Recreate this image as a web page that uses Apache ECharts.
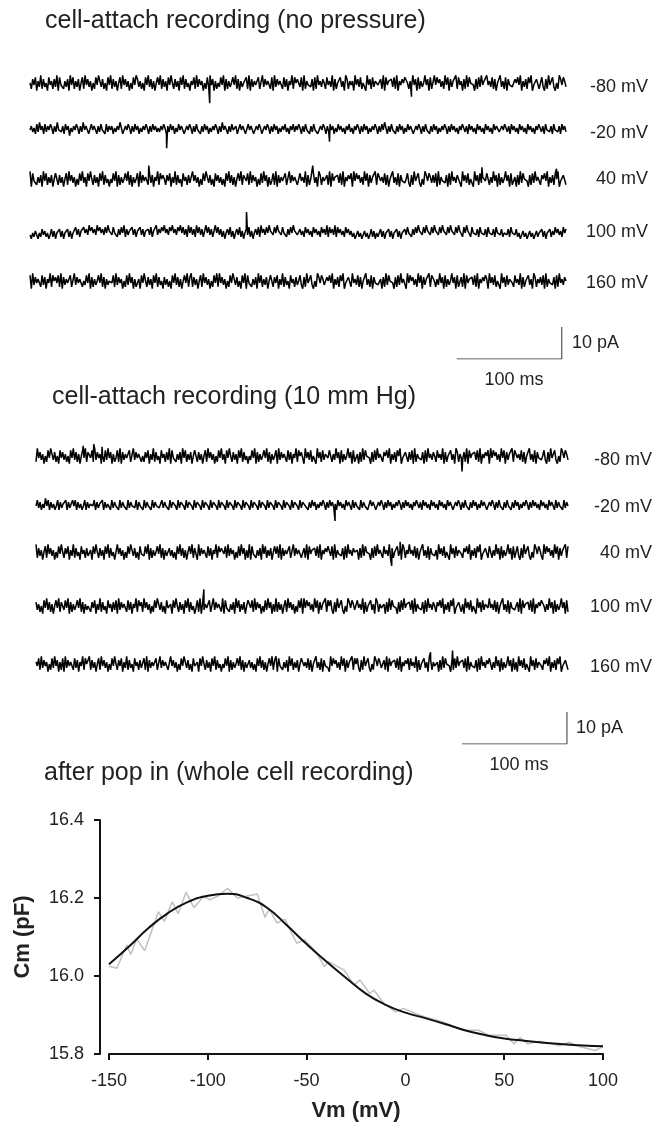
<!DOCTYPE html>
<html>
<head>
<meta charset="utf-8">
<script src="https://cdn.jsdelivr.net/npm/echarts@6/dist/echarts.min.js"></script>
<style>
  html, body { margin: 0; background: #fff; }
  #chart { width: 654px; height: 1130px; }
</style>
</head>
<body>
<div id="chart"></div>
<script>
// ---- data ----
const panelTitles = ['cell-attach recording (no pressure)', 'cell-attach recording (10 mm Hg)', 'after pop in (whole cell recording)']
const voltageLabels = ['-80 mV', '-20 mV', '40 mV', '100 mV', '160 mV']

// current traces, one digit per sample, noiseStep pA per digit around the baseline
const noiseStep = 0.6
const tracesNoPressure = [
  '52748163927351846273918452637194826371582947361528496372518492736158294736152849736251849372615849273618495273618492735164829374615283947162538491726358492716354829173645821937465281937465283716492857' +
  '73819264537182946375284639172548361972646194738256194728365437291846573829164758852639471826359471821948573629481736592846172938564172839465946382715493628174532758491637285914376258317294683152974863',
  '46352738462736475263845362746153647526384652374652637452736462536485236475263746253647526374635364752637462537465236475263745263746253647526384652637456237465237465236475236475263746253647352647' +
  '36475263745263745236475263746253746352647352647526374625364752637485263745263746253746523647526374526374625364752637463526475362746352746352746352746532647536274635274635274635264753627453627453627463',
  '91845263719482637158927361582947361528493618495273618492735153849172635849271635819374652837164928575274816392735184627329473615284963725184736251849372615849276482937461528394716248291736458219374652' +
  '28463917254836197264372918465738291647581948573629481736592894638271549362817453583172946831529748637381926453718294637561947382561947283654852639471826359471824617293856417283946527584916372859143762',
  '31425314263524136251436251436251437362547463857463857463748563745263748263547362547362546372548364758463758463758473628473628473625847362584736251463725146372514637251463728463748563748563745263748563' +
  '46352746352746352746382746382746352746352413524135241362514236251436251436251436374526374856374856374856374856374856374856274856274536274536274536274536245362745362413524135241352436251436253746352746',
  '81937465283716492857482917364582193746525384917263584927163564829374615283947162361849527361849273517362518493726158492792736158294736152849294736152849637251849184526371948263715852748163927351846273' +
  '58317294683152974863275849163728591437629463827154936281745346172938564172839465194857362948173659288526394718263594718237291846573829164758619473825619472836542846391725483619726473819264537182946375'
]
const tracesPressure = [
  '29473615284963725184736251849372615849276482937461528394716248291736458219374652527481639273518462739184526371948263715892736158294736152849361849527361849273515384917263584927163581937465283716492857' +
  '61947382561947283654852639471826359471824617293856417283946527584916372859143762738192645371829463752846391725483619726437291846573829164758194857362948173659289463827154936281745358317294683152974863',
  '47362538472635247263547263574726352472635647263547263542736452736452736453726452736452736453273645273654273654273654273654273654273654273654273654273654273654273654273654273654273654273654273654273654' +
  '52637462536475263746352746352746527364527364523746523647526374625364752637463526475362746352746352746352746523647526374526374625374652364752637452637452637462536475263746352746352746527364527364',
  '92736158294736152849527481639273518462733618495273618492735129473615284963725184538491726358492716357362518493726158492781937465283716492857648293746152839471629184526371948263715848291736458219374652' +
  '37291846573829164758738192645371829463754617293856417283946528463917254836197264946382715493628174536194738256194728365427584916372859143762852639471826359471825831729468315297486319485736294817365928',
  '73625184937261584927538491726358492716355274816392735184627381937465283716492857294736152849637251843618495273618492735148291736458219374652918452637194826371586482937461528394716292736158294736152849' +
  '19485736294817365928583172946831529748632846391725483619726446172938564172839465738192645371829463752758491637285914376261947382561947283654946382715493628174533729184657382916475885263947182635947182',
  '64829374615283947162819374652837164928579273615829473615284952748163927351846273482917364582193746522947361528496372518436184952736184927351538491726358492716357362518493726158492791845263719482637158' +
  '94638271549362817453194857362948173659285831729468315297486337291846573829164758284639172548361972644617293856417283946573819264537182946375852639471826359471826194738256194728365427584916372859143762'
]
// isolated spikes [time ms, current pA]
const spikesNoPressure = [
  [[171, -6], [363, -4]],
  [[130, -6], [285, -4]],
  [[113, 4.5], [269, 4.5], [430, 4], [501, 3.5]],
  [[206, 6.5]],
  []
]
const spikesPressure = [
  [[45, 3.5], [55, 4], [63, 3.2], [406, -4.5]],
  [[285, -5]],
  [[339, -4], [347, 3.5]],
  [[160, 5.5]],
  [[376, 4], [397, 4.5]]
]
const scaleBarTime = [406, 506]   // 100 ms
const scaleBarCurrent = [0, 10]   // 10 pA

// whole cell capacitance
const cmData = [
  [-150, 16.025], [-146, 16.02], [-141, 16.08], [-139, 16.055], [-136, 16.095], [-132, 16.065],
  [-125, 16.165], [-122, 16.14], [-118, 16.19], [-115, 16.16], [-111, 16.215], [-107, 16.175],
  [-102, 16.205], [-99, 16.195], [-95, 16.205], [-90, 16.225], [-85, 16.2], [-80, 16.205],
  [-75, 16.21], [-71, 16.15], [-69, 16.172], [-65, 16.136], [-61, 16.146], [-55, 16.084],
  [-51, 16.093], [-45, 16.06], [-41, 16.024], [-39, 16.037], [-31, 16.015], [-26, 15.977],
  [-23, 15.99], [-18, 15.955], [-16, 15.964], [-11, 15.93], [-5, 15.908], [-1, 15.917],
  [5, 15.904], [10, 15.895], [19, 15.882], [29, 15.861], [37, 15.861], [42, 15.848],
  [51, 15.848], [55, 15.826], [58, 15.842], [62, 15.826], [68, 15.833], [78, 15.822],
  [83, 15.83], [88, 15.819], [96, 15.809], [100, 15.819]
]
const fitVm = [-150, -140, -130, -120, -110, -100, -90, -80, -70, -60, -50, -40, -30, -20, -10, 0, 10, 20, 30, 40, 50, 60, 70, 80, 90, 100]
const fitCm = [16.03, 16.075, 16.123, 16.162, 16.19, 16.206, 16.211, 16.2, 16.175, 16.13, 16.082, 16.037, 15.995, 15.955, 15.926, 15.906, 15.892, 15.877, 15.861, 15.849, 15.84, 15.834, 15.829, 15.825, 15.822, 15.82]

// ---- layout ----
const font = 'Liberation Sans, Arial, sans-serif'
const textColor = '#222'

const chart = echarts.init(document.getElementById('chart'))
const grids = []
const xAxes = []
const yAxes = []
const series = []
const graphics = []

function addText(text, x, y, size, align) {
  graphics.push({
    type: 'text',
    x: x,
    y: y,
    silent: true,
    style: {
      text: text,
      font: size + 'px ' + font,
      fill: textColor,
      textAlign: align || 'left',
      textVerticalAlign: 'middle'
    }
  })
}

function addGrid(box, xa, ya) {
  const idx = grids.length
  grids.push(box)
  xAxes.push(Object.assign({ gridIndex: idx, type: 'value' }, xa))
  yAxes.push(Object.assign({ gridIndex: idx, type: 'value' }, ya))
  return idx
}

function addTracePanel(traces, spikes, centers, left, width, duration, labelX, labelYs) {
  traces.forEach((str, k) => {
    const idx = addGrid(
      { left: left, width: width, top: centers[k] - 19.2, height: 38.4 },
      { min: 0, max: duration, show: false },
      { min: -6, max: 6, show: false }
    )
    const n = str.length
    const pts = str.split('').map((d, i) => [i * duration / (n - 1), (+d - 4.5) * noiseStep])
    spikes[k].forEach(s => pts.push(s))
    pts.sort((a, b) => a[0] - b[0])
    series.push({
      type: 'line',
      xAxisIndex: idx,
      yAxisIndex: idx,
      data: pts,
      symbol: 'none',
      silent: true,
      lineStyle: { color: '#000', width: 1.5 }
    })
    addText(voltageLabels[k], labelX, labelYs[k], 18, 'right')
  })
}

function addScaleBar(left, width, duration, bottom) {
  const idx = addGrid(
    { left: left, width: width, top: bottom - 48, height: 48 },
    { min: 0, max: duration, show: false },
    { min: 0, max: 15, show: false }
  )
  series.push({
    type: 'line',
    xAxisIndex: idx,
    yAxisIndex: idx,
    data: [[scaleBarTime[0], scaleBarCurrent[0]], [scaleBarTime[1], scaleBarCurrent[0]], [scaleBarTime[1], scaleBarCurrent[1]]],
    symbol: 'none',
    silent: true,
    lineStyle: { color: '#333', width: 1 }
  })
}

// panel 1
addText(panelTitles[0], 45, 21, 25)
addTracePanel(tracesNoPressure, spikesNoPressure, [84, 129, 180, 232, 282], 30, 536, 510, 648, [87, 133, 179, 232, 283])
addScaleBar(30, 536, 510, 359)
addText('10 pA', 572, 343, 18)
addText('100 ms', 514, 380, 18, 'center')

// panel 2
addText(panelTitles[1], 52, 397, 25)
addTracePanel(tracesPressure, spikesPressure, [457, 505, 553, 607, 665], 36, 532, 507, 652, [460, 507, 553, 607, 667])
addScaleBar(36, 532, 507, 744)
addText('10 pA', 576, 728, 18)
addText('100 ms', 519, 765, 18, 'center')

// panel 3
addText(panelTitles[2], 44, 773, 25)
const cmIdx = addGrid(
  { left: 109, width: 494, top: 820, height: 234 },
  {
    min: -150, max: 100, interval: 50,
    name: 'Vm (mV)', nameLocation: 'middle', nameGap: 46,
    nameTextStyle: { fontFamily: font, fontSize: 22, fontWeight: 'bold', color: textColor },
    axisLine: { onZero: false, lineStyle: { color: '#111', width: 2 } },
    axisTick: { length: 6, lineStyle: { color: '#111', width: 2 } },
    axisLabel: { fontFamily: font, fontSize: 18, color: textColor, margin: 18 },
    splitLine: { show: false }
  },
  {
    min: 15.8, max: 16.4, interval: 0.2, offset: 9,
    name: 'Cm (pF)', nameLocation: 'middle', nameGap: 66,
    nameTextStyle: { fontFamily: font, fontSize: 22, fontWeight: 'bold', color: textColor },
    axisLine: { show: true, onZero: false, lineStyle: { color: '#111', width: 2 } },
    axisTick: { show: true, length: 6, lineStyle: { color: '#111', width: 2 } },
    axisLabel: { fontFamily: font, fontSize: 18, color: textColor, margin: 16, formatter: v => v.toFixed(1) },
    splitLine: { show: false }
  }
)
series.push({
  type: 'line',
  xAxisIndex: cmIdx,
  yAxisIndex: cmIdx,
  data: cmData,
  symbol: 'none',
  silent: true,
  lineStyle: { color: '#c0c0c0', width: 1.5 }
})
series.push({
  type: 'line',
  xAxisIndex: cmIdx,
  yAxisIndex: cmIdx,
  data: fitVm.map((v, i) => [v, fitCm[i]]),
  symbol: 'none',
  smooth: true,
  silent: true,
  lineStyle: { color: '#111', width: 2 }
})

chart.setOption({
  backgroundColor: '#fff',
  animation: false,
  grid: grids,
  xAxis: xAxes,
  yAxis: yAxes,
  series: series,
  graphic: graphics
})
</script>
</body>
</html>
